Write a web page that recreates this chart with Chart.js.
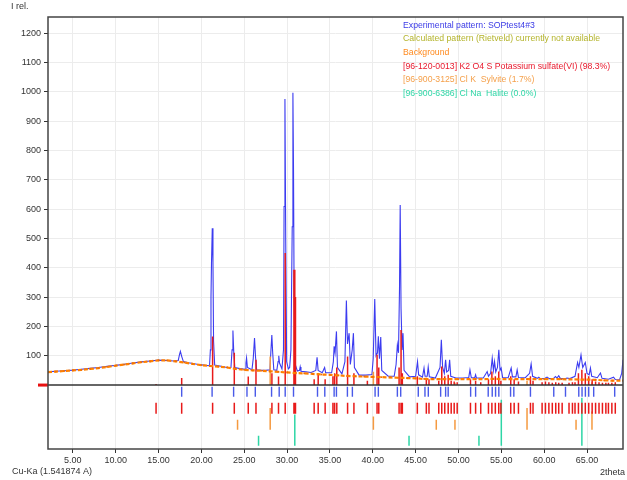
<!DOCTYPE html>
<html>
<head>
<meta charset="utf-8">
<script src="https://cdn.jsdelivr.net/npm/chart.js@4.4.0/dist/chart.umd.min.js"></script>
<style>
  html, body { margin: 0; padding: 0; background: #fff; }
  #wrap { position: relative; width: 627px; height: 480px; }
</style>
</head>
<body>
<div id="wrap"><canvas id="xrd" width="627" height="480"></canvas></div>
<script>
// axis ticks
const xTicks = [5, 10, 15, 20, 25, 30, 35, 40, 45, 50, 55, 60, 65];
const yTicks = [100, 200, 300, 400, 500, 600, 700, 800, 900, 1000, 1100, 1200];

// measured pattern [2theta, I]
const expPts = [
    [2.1,45],[3,47],[4,49],[5,51],[6,54],[7,57],[8,60],[9,64],[10,67],[11,71],[12,75],[13,79],[14,82],[15,85],[16,84],[16.8,82],
    [17.3,84],[17.45,105],[17.55,115],[17.7,98],[17.9,80],[18.5,76],[19.5,71],[20.5,67],[20.95,66],
    [21.05,120],[21.12,300],[21.18,417],[21.27,535],[21.35,420],[21.42,150],[21.55,68],[22.3,64],[23.0,60],[23.45,60],
    [23.58,120],[23.68,186],[23.78,110],[23.9,60],[24.5,56],[25.1,54],[25.2,75],[25.27,92],[25.37,60],
    [25.9,52],[26.05,90],[26.2,160],[26.32,95],[26.45,52],[27.0,50],[27.5,50],[28.0,52],[28.1,110],[28.22,171],[28.32,110],[28.45,52],
    [28.8,50],[28.95,80],[29.03,100],[29.12,75],[29.4,55],[29.58,120],[29.65,609],[29.75,975],[29.84,500],[29.95,80],[30.15,55],
    [30.3,60],[30.45,120],[30.6,540],[30.68,997],[30.75,734],[30.82,300],[30.95,70],[31.2,48],
    [31.45,50],[31.53,62],[31.62,47],[32.2,45],[32.8,43],[33.35,50],[33.5,95],[33.62,50],[34.1,42],[34.3,55],[34.38,60],[34.5,42],
    [35.2,42],[35.4,80],[35.49,132],[35.6,110],[35.76,183],[35.88,60],[36.4,38],[36.75,80],[36.92,288],[37.05,140],[37.24,177],[37.38,70],
    [37.6,120],[37.74,177],[37.86,60],[38.4,34],[39.2,34],[39.9,36],[40.05,90],[40.23,293],[40.38,100],[40.55,110],[40.65,166],[40.78,90],
    [40.93,164],[41.05,50],[41.8,30],[42.5,30],[42.72,70],[42.87,137],[43.0,110],[43.12,330],[43.2,614],[43.3,260],[43.42,120],[43.53,177],
    [43.65,50],[44.3,28],[45.0,30],[45.22,80],[45.35,35],[45.8,27],[45.98,58],[46.1,30],[46.35,30],[46.47,62],[46.6,28],[47.3,24],
    [47.85,60],[48.0,154],[48.15,60],[48.35,40],[48.5,86],[48.62,45],[48.85,50],[48.97,86],[49.1,30],[49.7,24],[50.5,24],[51.2,26],
    [51.34,52],[51.5,25],[51.9,25],[52.0,35],[52.1,24],[52.9,24],[53.35,46],[53.5,30],[53.75,40],[53.94,92],[54.08,50],[54.21,80],
    [54.35,45],[54.55,60],[54.71,120],[54.85,50],[54.98,58],[55.15,26],[55.8,25],[56.15,58],[56.3,28],[56.7,28],[56.85,52],[57.0,26],
    [57.8,25],[58.3,40],[58.48,72],[58.65,30],[59.2,23],[59.37,27],[59.55,22],[60.1,23],[60.34,27],[60.6,22],[61.1,23],[61.32,29],
    [61.5,24],[61.7,32],[61.9,22],[62.5,22],[62.67,24],[63.0,22],[63.6,30],[63.9,77],[64.05,60],[64.3,103],[64.5,60],[64.8,77],
    [65.0,40],[65.25,35],[65.4,58],[65.55,30],[66.2,25],[66.57,41],[66.75,23],[67.5,20],[68.1,27],[68.3,19],[68.8,18],[69.05,40],[69.2,86]
];

// fitted background [2theta, I]
const bgPts = [
    [2.1,44],[3,46],[4,48],[5,50],[6,52],[7,55],[8,58],[9,62],[10,66],[11,70],[12,74],[13,78],[14,81],[15,84],[16,84],
    [17,81],[18,77],[19,72],[20,68],[21,65],[22,63],[23,60],[24,55],[25,52],[26,50],[27,49],[28,47],[29,45],[30,43],
    [31,41],[32,40],[33,38],[34,36],[35,35],[36,33],[37,31],[38,30],[39,29],[40,28],[41,27],[42,26],[43,25],[44,24],
    [45,23],[46,21],[47,20],[48,20],[50,20],[52,20],[54,21],[56,20],[58,20],[60,20],[62,20],[64,19],[66,18],[67,16],[68,15],[69.2,15]
];

// peak search positions (blue row)
const peakPos = [17.7, 21.25, 23.76, 25.32, 26.29, 28.19, 29.08, 29.78, 30.75, 33.55, 34.4, 35.49, 35.76, 37.04, 37.62,
    40.27, 40.65, 42.87, 43.26, 45.31, 46.09, 46.48, 47.92, 48.5, 48.8, 51.42, 52.0, 53.47, 53.94, 54.33, 54.71,
    56.08, 56.46, 58.4, 61.12, 62.49, 64.04, 64.42, 64.81, 65.2, 65.78, 68.23];

// [96-120-0013] K2SO4 reference lines
const k2so4Pos = [14.71, 17.7, 21.31, 23.84, 25.47, 26.37, 28.23, 29.0, 29.78, 30.8, 30.9, 30.98, 33.16, 33.63, 34.44,
    35.35, 35.55, 35.8, 37.06, 37.8, 39.37, 40.5, 40.7, 43.07, 43.3, 43.45, 45.2, 46.25, 46.56, 47.7, 48.05, 48.4,
    48.8, 49.15, 49.5, 49.85, 51.4, 52.0, 52.6, 53.5, 53.9, 54.3, 54.7, 54.95, 56.1, 56.5, 57.0, 58.4, 58.7, 59.76,
    60.15, 60.55, 60.95, 61.35, 61.7, 62.1, 62.9, 63.3, 63.6, 64.0, 64.4, 64.8, 65.2, 65.6, 66.0, 66.4, 66.8, 67.2,
    67.5, 67.9, 68.3];
const k2so4Int = [4, 24, 166, 110, 29, 86, 40, 29, 450, 393, 393, 300, 20, 40, 20, 30, 40, 60, 97, 40, 15, 103, 60,
    60, 188, 40, 30, 25, 20, 15, 63, 30, 35, 15, 12, 10, 20, 15, 10, 20, 46, 30, 46, 15, 30, 20, 12, 30, 15, 10, 12,
    10, 8, 10, 8, 8, 8, 10, 10, 40, 52, 40, 30, 20, 12, 10, 8, 8, 8, 8, 10];

// [96-900-3125] Sylvite
const sylvitePos = [24.22, 28.03, 40.07, 47.41, 49.59, 58.0, 63.72, 65.58];
const sylviteInt = [0, 97, 45, 0, 8, 15, 0, 10];
const sylviteTop = [-118, -78, -107, -118, -118, -78, -118, -90];

// [96-900-6386] Halite
const halitePos = [26.67, 30.9, 44.23, 52.39, 55.0, 64.4];
const haliteTop = [-173, -100, -173, -173, -50, -43];

// stick rows below zero (y units)
const ROW_PEAK = [-6, -40];
const ROW_K2SO4 = [-60, -98];
const ROW_SYLVITE_BOTTOM = -152;
const ROW_HALITE_BOTTOM = -207;

const FONT = "'Liberation Sans', Arial, sans-serif";

function pts(list) {
    return list.map(p => ({ x: p[0], y: p[1] }));
}

// vertical sticks, separated by null so the line breaks between them
function sticks(xs, lo, hi) {
    const out = [];
    xs.forEach((x, i) => {
        const a = Array.isArray(lo) ? lo[i] : lo;
        const b = Array.isArray(hi) ? hi[i] : hi;
        if (a === b) return;
        out.push({ x: x, y: a }, { x: x, y: b }, { x: x, y: null });
    });
    return out;
}

function stickSet(data, color, width) {
    return {
        data: data,
        borderColor: color,
        borderWidth: width,
        pointRadius: 0,
        spanGaps: false,
        tension: 0
    };
}

const legendLines = [
    ['Experimental pattern: SOPtest4#3', '#3a3ae6'],
    ['Calculated pattern (Rietveld) currently not available', '#b4b42c'],
    ['Background', '#ff8a1e'],
    ['[96-120-0013] K2 O4 S Potassium sulfate(VI) (98.3%)', '#e8182c'],
    ['[96-900-3125] Cl K  Sylvite (1.7%)', '#f5a04a'],
    ['[96-900-6386] Cl Na  Halite (0.0%)', '#2ed6a6']
];

const overlay = {
    id: 'overlay',
    afterDatasetsDraw(chart) {
        const ctx = chart.ctx;
        const area = chart.chartArea;
        const y0 = chart.scales.y.getPixelForValue(0);
        ctx.save();

        // zero line
        ctx.strokeStyle = '#333';
        ctx.lineWidth = 1.5;
        ctx.beginPath();
        ctx.moveTo(area.left, y0);
        ctx.lineTo(area.right, y0);
        ctx.stroke();

        // red zero marker left of axis
        ctx.strokeStyle = '#e81010';
        ctx.lineWidth = 3;
        ctx.beginPath();
        ctx.moveTo(area.left - 10, y0);
        ctx.lineTo(area.left, y0);
        ctx.stroke();

        // frame
        ctx.strokeStyle = '#444';
        ctx.lineWidth = 1.5;
        ctx.strokeRect(area.left, area.top, area.right - area.left, area.bottom - area.top);

        // axis captions
        ctx.fillStyle = '#333';
        ctx.font = '9px ' + FONT;
        ctx.textBaseline = 'middle';
        ctx.textAlign = 'left';
        ctx.fillText('I rel.', 11, 7);
        ctx.fillText('Cu-Ka (1.541874 A)', 12, 472);
        ctx.textAlign = 'right';
        ctx.fillText('2theta', 625, 473);

        // phase legend
        ctx.textAlign = 'left';
        ctx.font = '8.7px ' + FONT;
        legendLines.forEach((l, i) => {
            ctx.fillStyle = l[1];
            ctx.fillText(l[0], 403, 25.5 + i * 13.6);
        });
        ctx.restore();
    }
};

const ctx = document.getElementById('xrd').getContext('2d');
Chart.defaults.font.family = FONT;

new Chart(ctx, {
    type: 'line',
    data: {
        datasets: [
            {
                data: pts(bgPts),
                borderColor: '#ff8000',
                borderWidth: 2.2,
                borderDash: [4, 2],
                pointStyle: 'rect',
                pointRadius: 1.2,
                pointBackgroundColor: '#f07000',
                pointBorderWidth: 0,
                tension: 0
            },
            stickSet(sticks(k2so4Pos, 0, k2so4Int), '#e81a1a', 1.5),
            stickSet(sticks(sylvitePos, 0, sylviteInt), '#f59a40', 1.5),
            {
                data: pts(expPts),
                borderColor: '#3c3cf0',
                borderWidth: 1.1,
                pointRadius: 0,
                tension: 0
            },
            stickSet(sticks(peakPos, ROW_PEAK[0], ROW_PEAK[1]), '#4a5ae8', 1.4),
            stickSet(sticks(k2so4Pos, ROW_K2SO4[0], ROW_K2SO4[1]), '#e81a1a', 1.5),
            stickSet(sticks(sylvitePos, sylviteTop, ROW_SYLVITE_BOTTOM), '#f59a40', 1.5),
            stickSet(sticks(halitePos, haliteTop, ROW_HALITE_BOTTOM), '#2ed6a6', 1.5)
        ]
    },
    options: {
        responsive: false,
        animation: false,
        events: [],
        layout: { padding: { top: 17, right: 3, left: 0, bottom: 0 } },
        plugins: {
            legend: { display: false },
            tooltip: { enabled: false }
        },
        scales: {
            x: {
                type: 'linear',
                min: 2.1,
                max: 69.2,
                afterBuildTicks: s => { s.ticks = xTicks.map(v => ({ value: v })); },
                afterFit: s => { s.height = 31; },
                ticks: {
                    callback: v => v.toFixed(2),
                    color: '#333',
                    font: { size: 9 },
                    maxRotation: 0,
                    autoSkip: false,
                    padding: 2
                },
                grid: { color: '#ececec', tickColor: '#333', tickLength: 4 },
                border: { display: false }
            },
            y: {
                type: 'linear',
                min: -218,
                max: 1255,
                afterBuildTicks: s => { s.ticks = yTicks.map(v => ({ value: v })); },
                afterFit: s => { s.width = 48; },
                ticks: { callback: v => String(v), color: '#333', font: { size: 9 }, padding: 3 },
                grid: { color: '#ececec', tickColor: '#333', tickLength: 4 },
                border: { display: false }
            }
        }
    },
    plugins: [overlay]
});
</script>
</body>
</html>
